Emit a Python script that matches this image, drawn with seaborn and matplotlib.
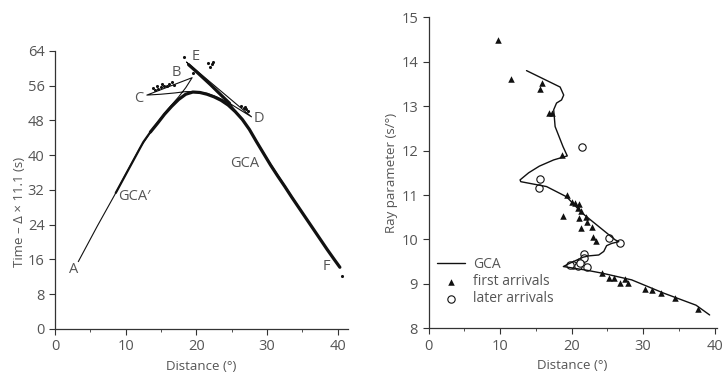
import matplotlib
matplotlib.use("Agg")
import matplotlib.pyplot as plt
import seaborn as sns
import pandas as pd
from matplotlib.ticker import MultipleLocator

# ---- left panel: reduced travel time (T - Δ*11.1) vs distance ----
# theoretical GCA curve, traced A -> B -> C -> D -> E -> F
gca_x = [3.3, 6.0, 8.5, 10.0, 12.0, 14.0, 16.0, 17.5, 18.5, 19.4,
         13.0,
         15.0, 17.0, 18.5, 20.0, 21.5, 23.0, 24.7, 26.3, 27.8,
         18.6,
         20.0, 22.0, 24.7, 26.6, 28.0, 30.0, 32.5, 35.0, 37.5, 40.3]
gca_y = [15.5, 23.7, 31.0, 35.6, 41.6, 46.5, 50.6, 53.4, 55.5, 57.8,
         53.8,
         54.0, 54.3, 54.6, 54.6, 54.2, 53.3, 51.9, 50.3, 48.8,
         61.4,
         59.2, 56.1, 51.9, 48.0, 44.6, 39.2, 33.0, 26.8, 20.7, 14.2]

# dense observed band (first arrivals): thin early part, then thick part
band1_x = [8.6, 9.5, 10.5, 11.5, 12.5, 13.5]
band1_y = [31.3, 34.0, 37.0, 40.0, 43.0, 45.3]
band2_x = [13.5, 14.5, 15.5, 16.5, 17.5, 18.5, 19.5,
           20.5, 21.5, 22.5, 23.5, 24.5, 25.5, 26.5, 27.5, 28.5, 29.5, 30.5,
           31.5, 32.5, 33.5, 34.5, 35.5, 36.5, 37.5, 38.5, 39.5, 40.3]
band2_y = [45.3, 47.3, 49.4, 51.2, 52.8, 54.0, 54.5,
           54.4, 54.0, 53.4, 52.6, 51.5, 50.0, 48.2, 45.9, 43.1, 40.4, 37.7,
           35.2, 32.8, 30.3, 27.9, 25.5, 23.1, 20.7, 18.3, 16.0, 14.2]
# observed band along E branch
eband_x = [18.9, 20.0, 21.0, 22.0, 23.0, 24.0, 24.7]
eband_y = [60.8, 59.2, 57.7, 56.2, 54.6, 53.0, 51.9]
# scattered picks
pick_x = [13.9, 14.2, 14.6, 15.0, 15.2, 15.4, 15.8, 16.2, 16.6, 16.9, 14.4,
          21.7, 21.9, 22.2, 22.4, 18.3, 19.5,
          26.3, 26.7, 26.9, 27.0, 27.3, 40.6]
pick_y = [55.4, 54.9, 55.2, 55.6, 56.3, 56.0, 55.8, 56.4, 56.9, 56.1, 55.9,
          61.1, 60.3, 60.9, 61.4, 62.6, 58.8,
          51.2, 50.8, 51.0, 50.6, 50.2, 12.2]

labels_txt = ["A", "B", "C", "D", "E", "F"]
labels_x = [2.6, 17.2, 11.9, 28.8, 19.9, 38.4]
labels_y = [13.6, 59.1, 53.0, 48.4, 62.6, 14.3]

# ---- right panel: ray parameter vs distance ----
rp_x = [13.7, 18.4, 18.9, 18.6, 17.9, 17.5, 17.7, 18.8, 19.4, 17.5, 15.5, 14.0, 12.8,
        12.9, 16.5, 19.3, 21.5, 23.8, 26.1, 26.6,
        25.6, 24.9, 24.5, 23.8, 22.4, 21.6, 19.7, 18.85,
        22.0, 24.3, 28.4, 32.9, 37.4, 39.3]
rp_y = [13.80, 13.43, 13.25, 13.14, 13.07, 12.92, 12.54, 12.09, 11.88, 11.79, 11.65, 11.50, 11.34,
        11.30, 11.19, 10.96, 10.59, 10.29, 9.99, 9.95,
        9.91, 9.86, 9.73, 9.65, 9.63, 9.60, 9.46, 9.39,
        9.31, 9.24, 9.09, 8.79, 8.52, 8.30]

first_x = [9.7, 11.6, 15.9, 15.6, 16.8, 17.2, 18.7, 19.4, 18.8, 20.0, 20.5, 21.0,
           20.9, 21.3, 21.1, 22.0, 22.2, 22.9, 21.3, 23.0, 23.4, 21.8, 20.2, 20.9,
           21.5, 24.3, 25.2, 25.9, 26.8, 27.4, 27.9, 30.2, 31.3, 32.5, 34.5, 37.7]
first_y = [14.49, 13.61, 13.52, 13.38, 12.84, 12.84, 11.90, 11.00, 10.53, 10.85, 10.81, 10.80,
           10.70, 10.63, 10.48, 10.51, 10.40, 10.29, 10.25, 10.06, 9.97, 9.66, 9.48, 9.52,
           9.54, 9.24, 9.13, 9.13, 9.01, 9.10, 9.01, 8.88, 8.86, 8.79, 8.68, 8.43]

later_x = [21.5, 15.6, 15.5, 25.2, 26.8, 21.8, 21.8, 20.2, 20.9, 21.2, 22.2, 19.8]
later_y = [12.09, 11.36, 11.15, 10.03, 9.91, 9.67, 9.58, 9.43, 9.40, 9.46, 9.37, 9.42]

sns.set_style("ticks")
plt.rcParams['font.family'] = ['Open Sans', 'DejaVu Sans']
txt = "#555555"
ink = "#111111"
plt.rcParams.update({
    "axes.edgecolor": "#333333", "xtick.color": "#333333", "ytick.color": "#333333",
    "xtick.labelcolor": txt, "ytick.labelcolor": txt, "axes.labelcolor": txt,
    "xtick.labelsize": 10.5, "ytick.labelsize": 10.5, "axes.labelsize": 9.5,
    "xtick.major.size": 4, "ytick.major.size": 4, "xtick.minor.size": 2.5,
    "axes.linewidth": 0.9,
})

fig = plt.figure(figsize=(7.28, 3.72), dpi=100)
ax1 = fig.add_axes([0.0755, 0.1156, 0.403, 0.748])
ax2 = fig.add_axes([0.5886, 0.1175, 0.396, 0.836])

# left panel
line_kw = dict(sort=False, estimator=None, errorbar=None, color=ink)
left_line = pd.DataFrame({"x": gca_x, "y": gca_y})
sns.lineplot(data=left_line, x="x", y="y", ax=ax1, lw=0.8, **line_kw)
sns.lineplot(x=band1_x, y=band1_y, ax=ax1, lw=1.6, **line_kw)
sns.lineplot(x=band2_x, y=band2_y, ax=ax1, lw=2.3, **line_kw)
sns.lineplot(x=eband_x, y=eband_y, ax=ax1, lw=2.3, **line_kw)
sns.scatterplot(x=pick_x, y=pick_y, ax=ax1, color=ink, s=5, linewidth=0)
for t, x, y in zip(labels_txt, labels_x, labels_y):
    ax1.text(x, y, t, color=txt, fontsize=10.5, ha="center", va="center")
ax1.text(8.9, 30.4, "GCA\u2032", color=txt, fontsize=10.5, ha="left", va="center")
ax1.text(26.8, 38.1, "GCA", color=txt, fontsize=10.5, ha="center", va="center")

ax1.set_xlim(0, 41.5)
ax1.set_ylim(0, 64)
ax1.set_xticks([0, 10, 20, 30, 40])
ax1.xaxis.set_minor_locator(MultipleLocator(5))
ax1.set_yticks(range(0, 65, 8))
ax1.set_xlabel("Distance (°)")
ax1.set_ylabel("Time \u2013 \u0394 \u00d7 11.1 (s)")
ax1.yaxis.set_label_coords(-0.10, 0.42)
sns.despine(ax=ax1)

# right panel
sns.lineplot(x=rp_x, y=rp_y, ax=ax2, lw=1.0, label="GCA", **line_kw)
sns.scatterplot(x=first_x, y=first_y, ax=ax2, marker="^", color=ink, s=22,
                linewidth=0, label="first arrivals")
sns.scatterplot(x=later_x, y=later_y, ax=ax2, marker="o", facecolor="white",
                edgecolor=ink, s=28, linewidth=0.8, label="later arrivals")
ax2.set_xlim(0, 40.3)
ax2.set_ylim(8, 15)
ax2.set_xticks([0, 10, 20, 30, 40])
ax2.xaxis.set_minor_locator(MultipleLocator(5))
ax2.set_yticks(range(8, 16))
ax2.set_xlabel("Distance (°)")
ax2.set_ylabel("Ray parameter (s/°)")
ax2.yaxis.set_label_coords(-0.105, 0.5)
ax2.legend(loc="upper left", bbox_to_anchor=(0.0, 0.255), frameon=False,
           fontsize=10, labelcolor=txt, handlelength=2.0, labelspacing=0.15,
           handletextpad=0.6, borderaxespad=0.2)
sns.despine(ax=ax2)

fig.savefig("out.png", dpi=100)
